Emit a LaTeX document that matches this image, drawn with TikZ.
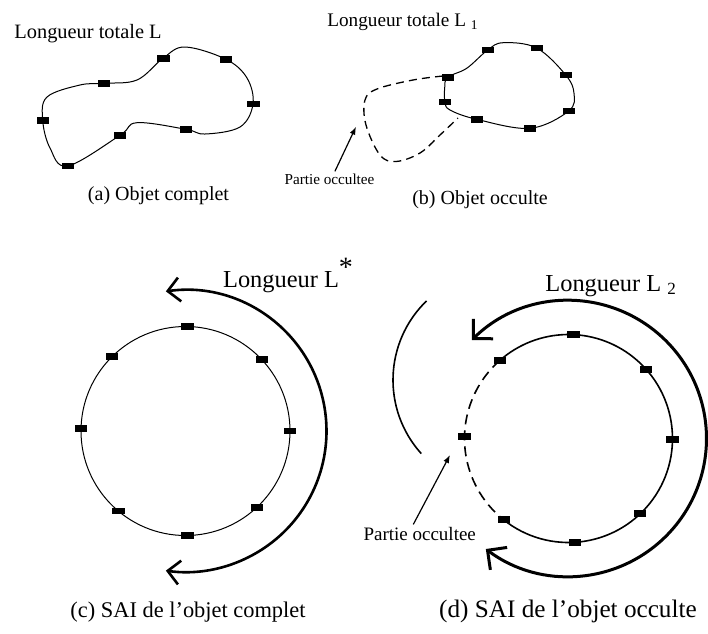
\documentclass[tikz,border=0pt]{standalone}
\usepackage{fontspec}
\setmainfont{Liberation Serif}
\usetikzlibrary{arrows.meta}

\begin{document}
\begin{tikzpicture}[
  x=0.5pt, y=-0.5pt,
  marker/.style={fill=black, inner sep=0pt, minimum width=6.2pt, minimum height=3.4pt},
  curve/.style={line width=0.5pt},
  hidden/.style={line width=0.65pt, dash pattern=on 4pt off 2.6pt},
  pointer/.style={-{Latex[length=4pt, width=3pt]}, line width=0.6pt},
  bigarc/.style={line width=1.3pt},
  title/.style={anchor=base west, inner sep=0pt},
  caption/.style={anchor=base, inner sep=0pt, font=\fontsize{10}{12}\selectfont}
]
\useasboundingbox (0,0) rectangle (708,633);

% --- (a) complete object ---
\draw[curve] plot[smooth cycle, tension=0.6] coordinates {
  (42.7,120) (47,97) (80,85) (104,83.3) (137,80) (163,58.3) (185,47)
  (226,59.3) (247,78) (253,104) (240,127) (205,134) (186,129.3)
  (137,122.7) (120,135.3) (67.7,166) (50,148)};
\foreach \x/\y [count=\i] in {163.3/58.3, 226/59.3, 253.3/104, 185.7/129.3,
                              120/135.3, 67.7/166, 42.7/120.3, 104/83.3}
  \node[marker] (a\i) at (\x,\y) {};
\node[title, font=\fontsize{10.2}{12}\selectfont] (lenA) at (14,38) {Longueur totale L};
\node[caption] (capA) at (158.5,200) {(a) Objet complet};

% --- (b) occluded object ---
\draw[curve] plot[smooth cycle, tension=0.6] coordinates {
  (447.7,77.3) (466.7,68.3) (487.7,50) (503.3,42.7) (536.7,48) (565.7,75)
  (574,93.3) (568.7,111) (530,128.3) (476.7,119.3) (450,110) (445,102) (444.7,88)};
\draw[hidden] plot[smooth, tension=0.6] coordinates {
  (443,76) (413,80) (377,89) (365,100) (366,125) (380,155) (396,161.5)
  (420,153) (440,135) (458,118)};
\foreach \x/\y [count=\i] in {487.7/50, 536.7/48, 565.7/75, 568.7/111,
                              530/128.3, 476.7/119.3, 445/102, 447.7/77.3}
  \node[marker] (b\i) at (\x,\y) {};
\node[title, font=\fontsize{9.6}{12}\selectfont] (lenB) at (327,26)
  {Longueur totale L \textsubscript{1}};
\node[caption] (capB) at (480,204) {(b) Objet occulte};
\node[anchor=base, inner sep=1pt, font=\fontsize{7.6}{9}\selectfont] (occB) at (329.5,184.3) {Partie occultee};
\coordinate (tipB) at (356,126.7);
\draw[pointer] ([xshift=2.7pt]occB.north) -- (tipB);

% --- (c) SAI, complete ---
\coordinate (cc) at (185.5,431);
\draw[line width=0.5pt] (cc) circle[radius=104.5];
\foreach \a [count=\i] in {-89, -43, 0, 47, 89, 130, 181.5, 225.5}
  \node[marker] (c\i) at ([shift={(\a:104.5)}]cc) {};
\draw[bigarc, {Straight Barb[length=6pt, width=12pt]}-{Straight Barb[length=6pt, width=12pt]}]
  ([shift={(-98:141)}]cc) arc[start angle=-98, end angle=98, radius=141];
\node[title, font=\fontsize{12.2}{14}\selectfont] (lenC) at (222.7,287)
  {Longueur L\raisebox{5.5pt}{\fontsize{14}{14}\selectfont *}};
\node[caption, font=\fontsize{11.2}{14}\selectfont] (capC) at (188,617) {(c) SAI de l’objet complet};

% --- (d) SAI, occluded ---
\coordinate (cd) at (568.5,438.5);
\draw[line width=0.8pt] ([shift={(-231.5:104)}]cd) arc[start angle=-231.5, end angle=-491.4, radius=104];
\draw[line width=0.8pt, dash pattern=on 5pt off 3pt]
  ([shift={(-131.4:104)}]cd) arc[start angle=-131.4, end angle=-231.5, radius=104];
\foreach \a [count=\i] in {-87.3, -41.8, 0.4, 46.4, 86.4, 128.5, 181, 228.6}
  \node[marker] (d\i) at ([shift={(\a:104)}]cd) {};
\coordinate (ca) at (503,380);
\draw[line width=0.8pt] ([shift={(-134:110)}]ca) arc[start angle=-134, end angle=-222, radius=110];
\draw[bigarc, line width=1.5pt, {Straight Barb[length=7pt, width=14pt]}-{Straight Barb[length=7pt, width=14pt]}]
  ([shift={(-134.5:138)}]cd) arc[start angle=-134.5, end angle=126.8, radius=138];
\node[title, font=\fontsize{12.2}{14}\selectfont] (lenD) at (545,291) {Longueur L \textsubscript{2}};
\node[anchor=base, inner sep=1pt, font=\fontsize{9.5}{11}\selectfont] (occD) at (419.7,540) {Partie occultee};
\coordinate (tipD) at (450,455);
\draw[pointer] ([xshift=-3.2pt]occD.north) -- (tipD);
\node[caption, font=\fontsize{12.6}{14}\selectfont] (capD) at (568,617) {(d) SAI de l’objet occulte};

\end{tikzpicture}
\end{document}
